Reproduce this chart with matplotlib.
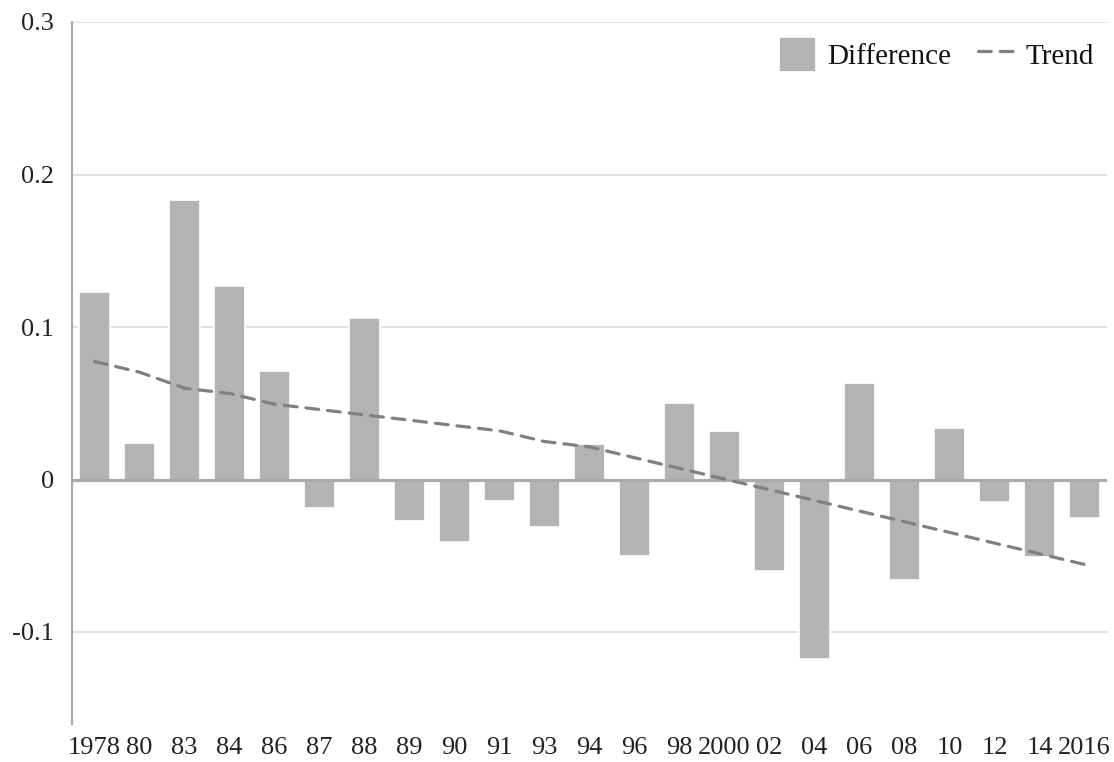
import matplotlib
matplotlib.use("Agg")
import matplotlib.pyplot as plt
import numpy as np

plt.rcParams["font.family"] = ["Liberation Serif", "DejaVu Serif"]

# survey years and their axis labels
years = [1978, 1980, 1983, 1984, 1986, 1987, 1988, 1989, 1990, 1991, 1993, 1994,
         1996, 1998, 2000, 2002, 2004, 2006, 2008, 2010, 2012, 2014, 2016]
year_labels = ["1978", "80", "83", "84", "86", "87", "88", "89", "90", "91", "93", "94",
               "96", "98", "2000", "02", "04", "06", "08", "10", "12", "14", "2016"]

# bar values (difference)
difference = [0.123, 0.024, 0.183, 0.127, 0.071, -0.019, 0.106, -0.027, -0.041, -0.014,
              -0.031, 0.023, -0.050, 0.050, 0.032, -0.060, -0.118, 0.063, -0.066, 0.034,
              -0.015, -0.051, -0.025]

# dashed trend line values
trend = [0.0774, 0.0704, 0.0599, 0.0564, 0.0494, 0.0459, 0.0424, 0.0389, 0.0354, 0.0319,
         0.0249, 0.0214, 0.0143, 0.0073, 0.0003, -0.0067, -0.0137, -0.0207, -0.0277,
         -0.0347, -0.0417, -0.0487, -0.0557]

yticks = [-0.1, 0, 0.1, 0.2, 0.3]
ytick_labels = ["-0.1", "0", "0.1", "0.2", "0.3"]

fig = plt.figure(figsize=(11.14, 7.62), dpi=100)
ax = fig.add_axes([72 / 1114, 1 - 723.5 / 762, (1107 - 72) / 1114, (723.5 - 22) / 762])

x = np.arange(len(years))
for y in [0.1, 0.2, 0.3, -0.1]:
    ax.axhline(y, color="#d9d9d9", lw=1.1, zorder=0)

bars = ax.bar(x, difference, width=0.68, color="#b3b3b3", edgecolor="white",
              linewidth=1.2, zorder=2, label="Difference")
ax.axhline(0, color="#aaaaaa", lw=2.3, zorder=3)
line, = ax.plot(x, trend, color="#808080", lw=2.3, dashes=(4.0, 2.8),
                dash_capstyle="round", zorder=4, label="Trend")

ax.set_xlim(-0.5, len(years) - 0.5)
ax.set_ylim(-0.16, 0.3)
ax.set_xticks(x)
ax.set_xticklabels(year_labels)
ax.set_yticks(yticks)
ax.set_yticklabels(ytick_labels)
ax.tick_params(axis="both", length=0, labelsize=19, colors="#222222")
ax.tick_params(axis="y", pad=13)
ax.tick_params(axis="x", pad=10)

for side in ["top", "right", "bottom"]:
    ax.spines[side].set_visible(False)
ax.spines["left"].set_color("#aaaaaa")
ax.spines["left"].set_linewidth(1.6)

leg = ax.legend([bars, line], ["Difference", "Trend"], loc="upper right",
                bbox_to_anchor=(0.999, 0.995), ncol=2, frameon=False,
                fontsize=21, handlelength=1.25, handleheight=1.45, handletextpad=0.4,
                columnspacing=0.9, borderaxespad=0.0)
for t in leg.get_texts():
    t.set_color("#111111")

fig.savefig("out.png", dpi=100)
